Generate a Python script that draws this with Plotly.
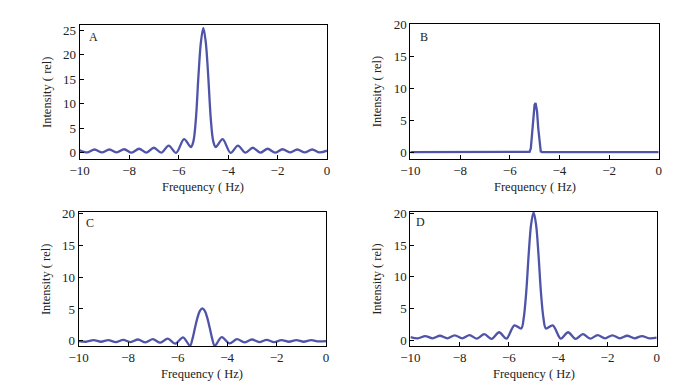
import plotly.graph_objects as go

# Shared frequency axis (Hz) for panels A, C, D
freq = [-10.0, -9.7, -9.4, -9.1, -8.8, -8.5, -8.2, -7.9, -7.6, -7.3, -7.0, -6.7, -6.4, -6.1,
        -5.78, -5.5, -5.4, -5.3, -5.2, -5.1, -5.0, -4.9, -4.8, -4.7, -4.6, -4.5, -4.22,
        -3.9, -3.6, -3.3, -3.0, -2.7, -2.4, -2.1, -1.8, -1.5, -1.2, -0.9, -0.6, -0.3, 0.0]

intensity_A = [0.55, 0.1, 0.7, 0.1, 0.7, 0.1, 0.75, 0.05, 0.85, 0.05, 1.05, 0.05, 1.5, 0.0,
               2.8, 1.2, 2.4, 7.0, 15.5, 22.5, 25.5, 22.5, 15.5, 7.0, 2.4, 1.2, 2.8,
               0.0, 1.5, 0.05, 1.05, 0.05, 0.85, 0.05, 0.75, 0.1, 0.7, 0.1, 0.7, 0.1, 0.45]

intensity_C = [-0.05, -0.15, 0.1, -0.15, 0.1, -0.2, 0.15, -0.2, 0.2, -0.25, 0.25, -0.3, 0.35, -0.45,
               0.55, -0.8, 0.3, 2.0, 3.6, 4.7, 5.1, 4.7, 3.6, 2.0, 0.3, -0.8, 0.57,
               -0.4, 0.25, -0.25, 0.2, -0.2, 0.15, -0.2, 0.1, -0.15, 0.1, -0.15, 0.1, -0.1, -0.05]

intensity_D = [0.5, 0.3, 0.65, 0.3, 0.7, 0.3, 0.75, 0.3, 0.8, 0.25, 0.95, 0.2, 1.25, 0.25,
               2.35, 1.85, 3.5, 7.5, 13.5, 18.3, 20.2, 18.3, 13.5, 7.5, 3.5, 1.85, 2.35,
               0.25, 1.25, 0.2, 0.95, 0.25, 0.8, 0.3, 0.75, 0.3, 0.7, 0.3, 0.65, 0.3, 0.4]

# Panel B has its own sampling
freq_B = [-10.0, -5.25, -5.2, -5.15, -5.1, -5.05, -5.0, -4.96, -4.9, -4.85, -4.8, -4.75, -4.7, 0.0]
intensity_B = [0.0, 0.0, 0.05, 0.6, 2.6, 5.6, 7.4, 7.7, 6.4, 3.7, 1.2, 0.1, 0.0, 0.0]

x_ticks = [-10, -8, -6, -4, -2, 0]
y_ticks_A = [0, 5, 10, 15, 20, 25]
y_ticks_BCD = [0, 5, 10, 15, 20]
panel_labels = ["A", "B", "C", "D"]
x_title = "Frequency ( Hz)"
y_title = "Intensity ( rel)"

W, H = 699, 390
LINE = "#4f54a8"
FONT = "Liberation Serif"

# panel boxes in pixels: (left, right, top, bottom)
boxes = [(71, 323, 19, 156), (408, 661, 18, 156), (70, 322, 210, 347), (408, 659, 210, 347)]
yranges = [[-1.2, 26.15], [-1.05, 20.15], [-0.8, 20.3], [-0.9, 20.3]]
series = [(freq, intensity_A), (freq_B, intensity_B), (freq, intensity_C), (freq, intensity_D)]
shapes_line = ["spline", "linear", "spline", "spline"]
ytick_sets = [y_ticks_A, y_ticks_BCD, y_ticks_BCD, y_ticks_BCD]
label_pos = [(-9.45, 23.7), (-9.45, 18.0), (-9.55, 18.5), (-9.6, 18.6)]

fig = go.Figure()
annotations = []
for i, ((l, r, t, b), yr, (xs, ys), shp, yt, lp, lab) in enumerate(
        zip(boxes, yranges, series, shapes_line, ytick_sets, label_pos, panel_labels)):
    n = "" if i == 0 else str(i + 1)
    fig.add_trace(go.Scatter(x=xs, y=ys, mode="lines", xaxis="x" + n, yaxis="y" + n,
                             line=dict(color=LINE, width=2.3, shape=shp, smoothing=0.9),
                             showlegend=False, hoverinfo="skip"))
    common = dict(showline=True, linecolor="black", linewidth=1, mirror=True,
                  ticks="inside", ticklen=4, tickwidth=1, tickcolor="black",
                  showgrid=False, zeroline=False,
                  tickfont=dict(family=FONT, size=13, color="#222"))
    fig.layout["xaxis" + n] = dict(domain=[l / W, r / W], range=[-10, 0], anchor="y" + n,
                                   tickvals=x_ticks, **common)
    fig.layout["yaxis" + n] = dict(domain=[1 - b / H, 1 - t / H], range=yr, anchor="x" + n,
                                   tickvals=yt, **common)
    annotations.append(dict(x=lp[0], y=lp[1], xref="x" + n, yref="y" + n, text=lab,
                            showarrow=False, xanchor="center", yanchor="middle",
                            font=dict(family=FONT, size=12, color="#222")))
    cx = (l + r) / 2
    annotations.append(dict(x=cx / W, y=1 - (b + 29) / H, xref="paper", yref="paper",
                            text=x_title, showarrow=False, xanchor="center", yanchor="middle",
                            font=dict(family=FONT, size=12.5, color="#222")))
    annotations.append(dict(x=(l - 34) / W, y=1 - ((t + b) / 2) / H, xref="paper", yref="paper",
                            text=y_title, showarrow=False, textangle=-90,
                            xanchor="center", yanchor="middle",
                            font=dict(family=FONT, size=12.5, color="#222")))

fig.update_layout(width=W, height=H, margin=dict(l=0, r=0, t=0, b=0),
                  paper_bgcolor="white", plot_bgcolor="white", annotations=annotations)
fig.write_html("out.html", config={"displayModeBar": False},
               post_script="document.body.style.margin='0px';")
